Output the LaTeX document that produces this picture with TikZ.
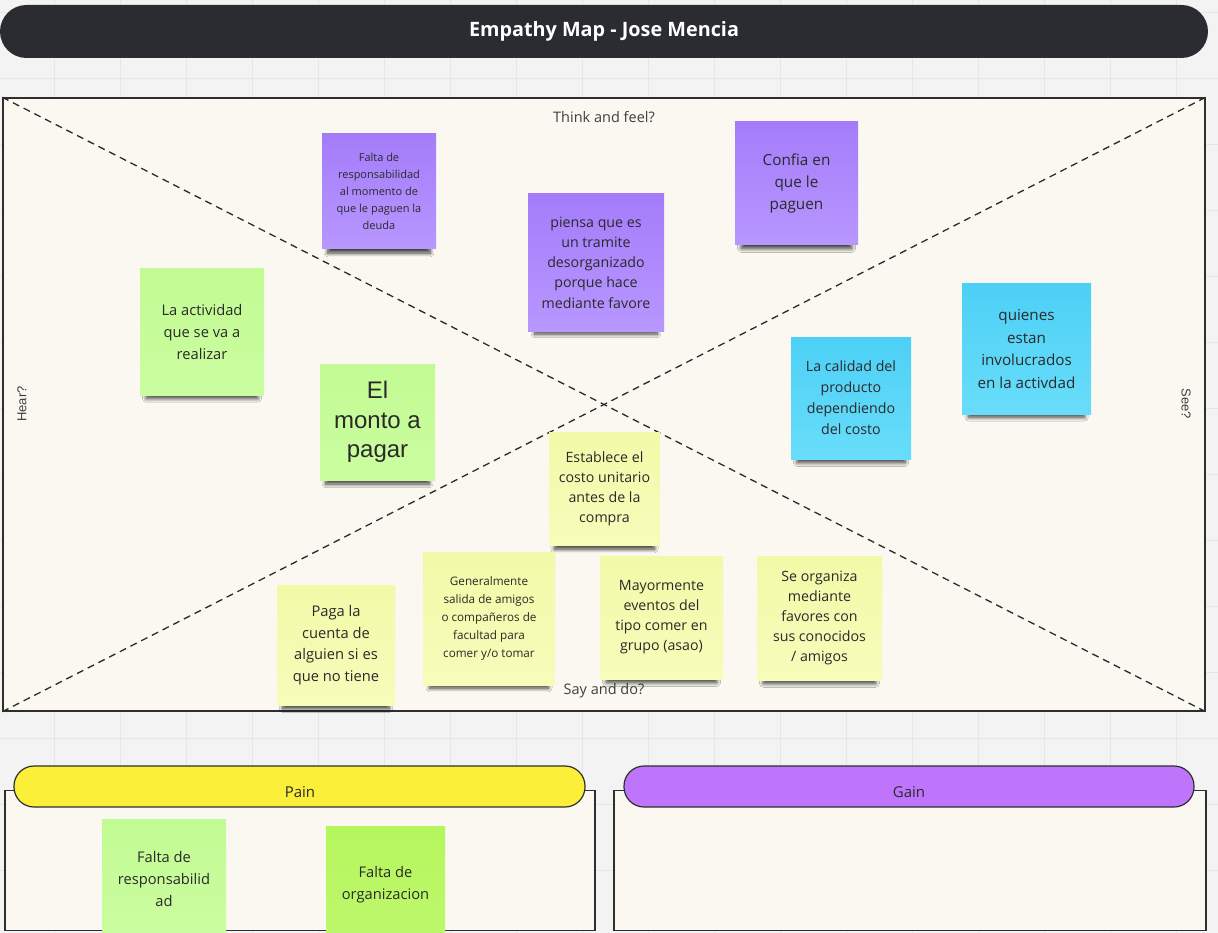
\documentclass[tikz,border=0pt]{standalone}
\usepackage{fontspec}
\setmainfont{Open Sans}
\newfontfamily\arialish{Liberation Sans}
\usetikzlibrary{shadows.blur}

\definecolor{canvas}{HTML}{F3F3F3}
\definecolor{gridln}{HTML}{E6E6E6}
\definecolor{paper}{HTML}{FAF8F1}
\definecolor{ink}{HTML}{2A2A2A}
\definecolor{frame}{HTML}{2E2E2E}
\definecolor{titlebg}{HTML}{2B2C31}
\definecolor{purpTop}{HTML}{A47CFA}
\definecolor{purpBot}{HTML}{B897FF}
\definecolor{greenTop}{HTML}{C2FB93}
\definecolor{greenBot}{HTML}{CBFDA0}
\definecolor{limeTop}{HTML}{B5F65C}
\definecolor{limeBot}{HTML}{BEF86E}
\definecolor{blueTop}{HTML}{4DD0F6}
\definecolor{blueBot}{HTML}{68DDFA}
\definecolor{yelTop}{HTML}{F2FAA8}
\definecolor{yelBot}{HTML}{F7FCBA}
\definecolor{painY}{HTML}{FBEF3A}
\definecolor{gainP}{HTML}{BE74FB}

\tikzset{
  titlebar/.style={fill=titlebg, rounded corners=26.5pt, minimum width=1208pt,
    minimum height=53pt, inner sep=0pt, text=white,
    font=\fontsize{19.8}{23}\selectfont\bfseries},
  mapframe/.style={draw=frame, fill=paper, line width=1.5pt, inner sep=0pt,
    minimum width=1202pt, minimum height=613pt},
  diag/.style={draw=ink, line width=1.3pt, dash pattern=on 7pt off 5pt},
  lbl/.style={text=ink!90, inner sep=0pt, font=\fontsize{14.5}{17}\selectfont},
  sidelbl/.style={text=ink!90, inner sep=0pt, font=\arialish\fontsize{13}{16}\selectfont},
  note/.style={inner sep=0pt, align=center, text=ink,
    blur shadow={shadow xshift=0pt, shadow yshift=-11pt, shadow scale=0.9,
      shadow blur radius=4pt, shadow blur steps=12, shadow opacity=75}},
  purplenote/.style={note, top color=purpTop, bottom color=purpBot},
  greennote/.style={note, top color=greenTop, bottom color=greenBot},
  limenote/.style={note, top color=limeTop, bottom color=limeBot},
  bluenote/.style={note, top color=blueTop, bottom color=blueBot},
  yellownote/.style={note, top color=yelTop, bottom color=yelBot},
  panel/.style={draw=frame, fill=paper, line width=1.2pt, inner sep=0pt,
    minimum width=590pt, minimum height=140pt},
  pill/.style={draw=frame, line width=1.2pt, rounded corners=20pt, inner sep=0pt,
    minimum width=571pt, minimum height=41pt},
  pilltext/.style={text=ink, inner sep=0pt, font=\fontsize{15}{18}\selectfont},
}

\begin{document}
\begin{tikzpicture}[x=1pt, y=-1pt]
\useasboundingbox (0,0) rectangle (1218,933);
\fill[canvas] (0,0) rectangle (1218,933);

% faint board grid
\foreach \k in {0,...,17} {\draw[gridln, line width=0.8pt] ({54.4+66*\k},0) -- ++(0,933);}
\foreach \k in {0,...,14} {\draw[gridln, line width=0.8pt] (0,{12+66*\k}) -- ++(1218,0);}

% title bar
\node[titlebar] (title) at (604,31.5) {Empathy Map - Jose Mencia};

% empathy map frame with its two diagonals
\node[mapframe] (map) at (604,404.5) {};
\draw[diag] (map.north west) -- (map.south east);
\draw[diag] (map.south west) -- (map.north east);

% quadrant labels
\node[lbl] (think) at (604,117) {Think and feel?};
\node[lbl] (say) at (604,691) {Say and do?};
\node[sidelbl, rotate=90] (hear) at (22,404) {Hear?};
\node[sidelbl, rotate=-90] (see) at (1186,404) {See?};

% think and feel
\node[purplenote, minimum width=114pt, minimum height=115pt,
  font=\fontsize{11}{17}\selectfont] (n1) at (379,191.5)
  {Falta de\\responsabilidad\\al momento de\\que le paguen la\\deuda};
\node[purplenote, minimum width=136pt, minimum height=137pt,
  font=\fontsize{14.2}{20.3}\selectfont] (n2) at (596,262.5)
  {piensa que es\\un tramite\\desorganizado\\porque hace\\mediante favore};
\node[purplenote, minimum width=123pt, minimum height=123pt,
  font=\fontsize{15.3}{22}\selectfont] (n3) at (796.5,183.5)
  {Confia en\\que le\\paguen};

% hear
\node[greennote, minimum width=124pt, minimum height=126pt,
  font=\fontsize{14.7}{22}\selectfont] (n4) at (202,332)
  {La actividad\\que se va a\\realizar};
\node[greennote, minimum width=115pt, minimum height=116pt,
  font=\arialish\fontsize{24}{29.5}\selectfont] (n5) at (377.5,422)
  {El\\monto a\\pagar};

% see
\node[bluenote, minimum width=120pt, minimum height=122pt,
  font=\fontsize{14.2}{21}\selectfont] (n6) at (851,398)
  {La calidad del\\producto\\dependiendo\\del costo};
\node[bluenote, minimum width=129pt, minimum height=130pt,
  font=\fontsize{15.2}{22.6}\selectfont] (n7) at (1026.5,349)
  {quienes\\estan\\involucrados\\en la activdad};

% say and do
\node[yellownote, minimum width=111pt, minimum height=113pt,
  font=\fontsize{14.2}{20}\selectfont] (n8) at (604.5,488.5)
  {Establece el\\costo unitario\\antes de la\\compra};
\node[yellownote, minimum width=118pt, minimum height=120pt,
  font=\fontsize{14.7}{21.5}\selectfont] (n9) at (336,645)
  {Paga la\\cuenta de\\alguien si es\\que no tiene};
\node[yellownote, minimum width=132pt, minimum height=133pt,
  font=\fontsize{11.7}{18}\selectfont] (n10) at (489,618.5)
  {Generalmente\\salida de amigos\\o compañeros de\\facultad para\\comer y/o tomar};
\node[yellownote, minimum width=123pt, minimum height=123pt,
  font=\fontsize{14.2}{20}\selectfont] (n11) at (661.5,617.5)
  {Mayormente\\eventos del\\tipo comer en\\grupo (asao)};
\node[yellownote, minimum width=125pt, minimum height=124pt,
  font=\fontsize{14.2}{20}\selectfont] (n12) at (819.5,618)
  {Se organiza\\mediante\\favores con\\sus conocidos\\/ amigos};

% pain and gain panels
\node[panel] (painbox) at (300,860.5) {};
\node[panel, minimum width=592pt] (gainbox) at (910,860.5) {};
\node[pill, fill=painY] (painhd) at (299.5,786.5) {};
\node[pill, fill=gainP, minimum width=570pt] (gainhd) at (909,786.5) {};
\node[pilltext] (painlbl) at (300,792) {Pain};
\node[pilltext] (gainlbl) at (909,792) {Gain};

\node[greennote, minimum width=124pt, minimum height=120pt,
  font=\fontsize{14.7}{22}\selectfont] (p1) at (164,879)
  {Falta de\\responsabilid\\ad};
\node[limenote, minimum width=119pt, minimum height=118pt,
  font=\fontsize{14.7}{22}\selectfont] (p2) at (385.5,885)
  {Falta de\\organizacion};
\end{tikzpicture}
\end{document}
